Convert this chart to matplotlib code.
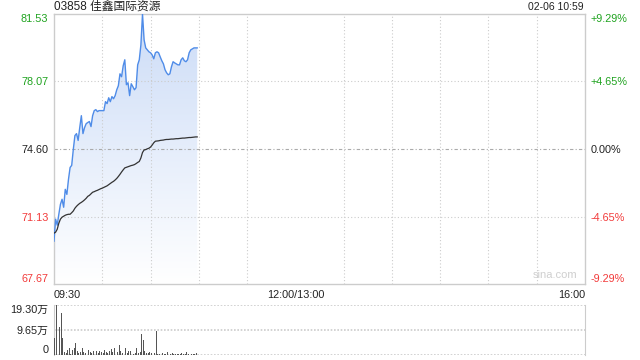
import numpy as np
import matplotlib
matplotlib.use('Agg')
import matplotlib.pyplot as plt
from matplotlib.colors import LinearSegmentedColormap

plt.rcParams['font.family'] = ['Liberation Sans', 'Noto Sans CJK SC', 'DejaVu Sans']

title = '03858 佳鑫国际资源'
stamp = '02-06 10:59'
base = 74.60          # previous close
ymin, ymax = 67.67, 81.53
total_min = 330       # 09:30-12:00 + 13:00-16:00

# minute prices 09:30 .. 10:59
price = [69.87, 71.00, 70.69, 71.25, 71.76, 72.02, 71.61, 72.53, 72.27, 73.04,
         73.65, 73.76, 74.58, 75.29, 75.39, 75.04, 75.70, 76.31, 75.39, 75.70,
         75.90, 75.96, 76.01, 75.75, 76.31, 76.57, 76.62, 76.52, 76.57, 76.57,
         76.57, 76.57, 77.03, 76.93, 77.23, 77.03, 77.29, 77.18, 77.34, 77.64,
         77.85, 78.46, 78.31, 78.87, 79.18, 77.90, 78.00, 77.34, 77.95, 77.80,
         77.64, 77.75, 78.92, 79.18, 79.94, 81.53, 80.20, 79.79, 79.69, 79.59,
         79.54, 79.43, 79.23, 79.54, 79.59, 79.54, 79.33, 79.13, 78.97, 78.67,
         78.51, 78.41, 78.46, 78.82, 79.08, 79.02, 78.97, 78.92, 78.92, 79.18,
         79.28, 79.13, 79.08, 79.18, 79.54, 79.69, 79.74, 79.79, 79.79, 79.79]

avg = [70.28, 70.33, 70.48, 70.79, 71.00, 71.10, 71.15, 71.20, 71.23, 71.25,
       71.25, 71.33, 71.42, 71.56, 71.66, 71.74, 71.81, 71.86, 71.92, 71.99,
       72.07, 72.17, 72.22, 72.30, 72.38, 72.41, 72.45, 72.48, 72.52, 72.56,
       72.59, 72.63, 72.67, 72.71, 72.77, 72.83, 72.89, 72.94, 73.01, 73.09,
       73.19, 73.30, 73.42, 73.53, 73.63, 73.66, 73.69, 73.72, 73.75, 73.77,
       73.80, 73.85, 73.91, 73.96, 74.14, 74.42, 74.55, 74.57, 74.61, 74.64,
       74.70, 74.80, 74.92, 75.00, 75.01, 75.02, 75.04, 75.05, 75.06, 75.08,
       75.09, 75.09, 75.10, 75.11, 75.11, 75.12, 75.13, 75.13, 75.14, 75.15,
       75.16, 75.16, 75.17, 75.18, 75.19, 75.19, 75.20, 75.21, 75.22, 75.22]

# volume in 万 shares
vol = [6.6, 19.3, 5.1, 10.9, 16.2, 6.6, 1.3, 0.8, 1.9, 2.8,
       0.5, 1.9, 2.7, 4.6, 1.6, 0.8, 1.3, 2.7, 1.3, 0.8,
       2.7, 1.9, 1.2, 0.6, 1.5, 0.9, 1.4, 0.7, 1.6, 1.1,
       0.8, 1.9, 1.3, 0.9, 1.5, 2.3, 1.0, 2.7, 3.2, 1.1,
       3.9, 1.4, 0.9, 5.1, 2.7, 0.7, 1.5, 1.5, 0.8, 0.5,
       0.8, 2.8, 0.8, 1.2, 8.1, 5.8, 1.5, 0.6, 0.8, 1.3,
       0.9, 0.4, 0.9, 9.3, 0.5, 0.3, 0.4, 0.6, 0.3, 0.5,
       1.1, 0.4, 0.3, 0.6, 0.4, 0.3, 0.5, 0.4, 0.3, 0.6,
       0.4, 0.3, 1.0, 0.4, 0.3, 0.5, 0.4, 0.3, 0.8, 0.4]

left_ticks = [81.53, 78.07, 74.60, 71.13, 67.67]
pct_labels = ['+9.29%', '+4.65%', '0.00%', '-4.65%', '-9.29%']
vol_ticks = [0, 9.65, 19.30]
vol_labels = ['0', '9.65万', '19.30万']
time_ticks = [0, 150, 330]
time_labels = ['09:30', '12:00/13:00', '16:00']

green = '#1fa31f'
red = '#f23a3a'
grid_c = '#cccccc'
fs = 7.8

fig = plt.figure(figsize=(6.4, 3.6), dpi=100)
W, H = 640, 360
ax = fig.add_axes([54 / W, 1 - 284 / H, 531 / W, 270 / H])
axv = fig.add_axes([54 / W, 1 - 355 / H, 531 / W, 50 / H])

x = np.arange(len(price))

# gradient area under the price line
poly = ax.fill_between(x, price, ymin, color='none', lw=0)
cmap = LinearSegmentedColormap.from_list('g', ['#ffffff', '#ccdcf7'])
grad = np.linspace(1, 0, 256).reshape(-1, 1)
im = ax.imshow(grad, cmap=cmap, extent=[0, x[-1], ymin, ymax], aspect='auto',
               origin='upper', zorder=1)
im.set_clip_path(poly.get_paths()[0], transform=ax.transData)

ax.plot(x, price, color='#4f8ce8', lw=1.0, zorder=3)
ax.plot(x, avg, color='#333333', lw=0.9, zorder=3)

ax.set_xlim(0, total_min)
ax.set_ylim(ymin, ymax)
ax.set_xticks(time_ticks)
ax.set_xticklabels(time_labels)
ax.set_xticks(range(0, total_min + 1, 30), minor=True)
ax.tick_params(axis='x', which='both', length=0, pad=4, labelsize=fs, colors='#222222')
xl = ax.get_xticklabels()
xl[0].set_ha('left')
xl[-1].set_ha('right')
ax.grid(which='minor', axis='x', color=grid_c, ls=(0, (1, 2)), lw=0.8)

ax.set_yticks(left_ticks)
ax.set_yticklabels(['%.2f' % v for v in left_ticks])
ax.tick_params(axis='y', length=0, pad=4, labelsize=fs)
for t, v in zip(ax.get_yticklabels(), left_ticks):
    t.set_color(green if v > base else (red if v < base else '#222222'))
yl = ax.get_yticklabels()
yl[0].set_va('top')
yl[-1].set_va('bottom')
for v in left_ticks[1:-1]:
    if v == base:
        ax.axhline(v, color='#aaaaaa', ls=(0, (3, 2, 1, 2)), lw=0.8, zorder=2)
    else:
        ax.axhline(v, color=grid_c, ls=(0, (1, 2)), lw=0.8, zorder=2)
for s in ax.spines.values():
    s.set_color(grid_c)
    s.set_linewidth(1)

axr = ax.twinx()
axr.set_ylim(ymin, ymax)
axr.set_yticks(left_ticks)
axr.set_yticklabels(pct_labels)
axr.tick_params(axis='y', length=0, pad=4, labelsize=fs)
for t, v in zip(axr.get_yticklabels(), left_ticks):
    t.set_color(green if v > base else (red if v < base else '#222222'))
rl = axr.get_yticklabels()
rl[0].set_va('top')
rl[-1].set_va('bottom')
for s in axr.spines.values():
    s.set_visible(False)

ax.text(0.985, 0.015, 'sina.com', transform=ax.transAxes, ha='right', va='bottom',
        fontsize=8, color='#cfcfcf')

# volume
axv.bar(x + 0.5, vol, width=0.55, color='#555555', zorder=3)
axv.set_xlim(0, total_min)
axv.set_ylim(0, 19.30)
axv.set_xticks([])
axv.set_yticks(vol_ticks)
axv.set_yticklabels(vol_labels)
axv.tick_params(axis='y', length=0, pad=4, labelsize=fs, colors='#222222')
vl = axv.get_yticklabels()
vl[0].set_va('bottom')
vl[-1].set_va('top')
axv.grid(axis='y', color=grid_c, ls=(0, (1, 1)), lw=1.2)
for k in ['top', 'bottom']:
    axv.spines[k].set_visible(False)
for k in ['left', 'right']:
    axv.spines[k].set_color(grid_c)

fig.text(54 / W, 1 - 7 / H, title, ha='left', va='center', fontsize=8.5, color='#222222')
fig.text(584 / W, 1 - 7 / H, stamp, ha='right', va='center', fontsize=7.5, color='#222222')

fig.savefig('out.png', dpi=100)
